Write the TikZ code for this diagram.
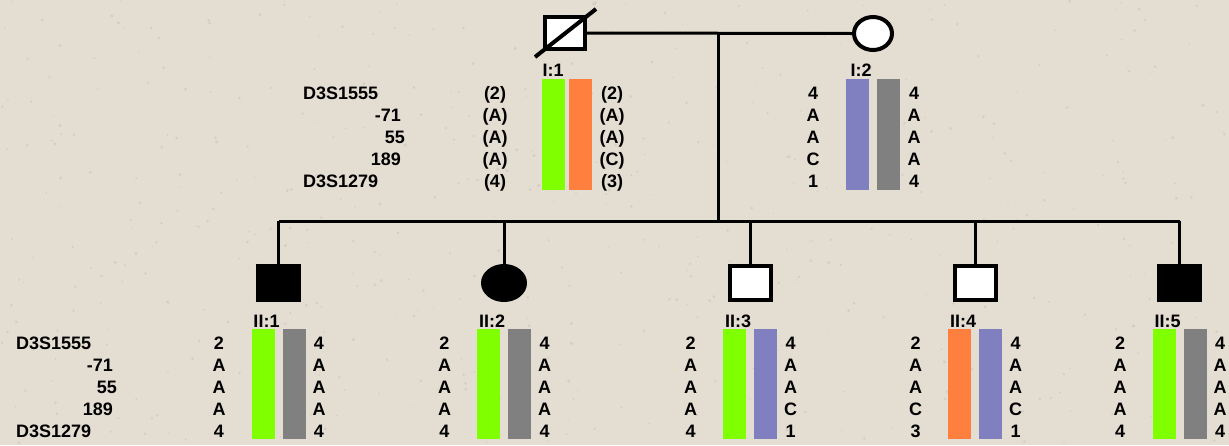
\documentclass[tikz,border=0pt]{standalone}
\usepackage{fontspec}
\usetikzlibrary{shapes.geometric}
\setmainfont{Liberation Sans}
\definecolor{paper}{RGB}{228,221,209}
\definecolor{grain}{RGB}{205,197,184}
\definecolor{hapgreen}{RGB}{128,255,0}
\definecolor{haporange}{RGB}{255,127,63}
\definecolor{hapviolet}{RGB}{128,128,192}
\definecolor{hapgrey}{RGB}{128,128,128}
\tikzset{
  txt/.style={inner sep=0pt, font=\fontsize{18}{20}\selectfont\bfseries},
  allele/.style={txt, anchor=base},
  markerL/.style={txt, anchor=base west},
  markerR/.style={txt, anchor=base east},
  idlabel/.style={txt, anchor=base},
  male/.style={draw, rectangle, line width=4pt, minimum width=41pt, minimum height=34pt, inner sep=0pt},
  female/.style={draw, ellipse, line width=4pt, minimum width=42pt, minimum height=34pt, inner sep=0pt},
  bar/.style={rectangle, inner sep=0pt, minimum width=23pt},
  link/.style={line width=3pt},
}
\begin{document}
\begin{tikzpicture}[x=1pt, y=-1pt]
  % paper background with light grain
  \fill[paper] (0,0) rectangle (1229,445);
  \useasboundingbox (0,0) rectangle (1229,445);
  \pgfmathsetseed{11}
  \foreach \k in {1,...,500} {
    \fill[grain, opacity=0.6] ({rnd*1229},{rnd*445}) circle ({0.6+rnd*1.1});
  }

  % ---------- generation I ----------
  \node[male, fill=white, minimum width=40pt, minimum height=32pt] (I1) at (565,33) {};
  \node[female, fill=white, minimum width=38pt, minimum height=33pt] (I2) at (873,33.5) {};
  \draw[line width=4pt] ([shift={(-30,24)}]I1.center) -- ([shift={(31,-24)}]I1.center);
  \draw[link] (I1.east) -- (I2.west);
  \coordinate (mate) at (718,33);
  \coordinate (sib) at (718,221);
  \draw[link] (mate) -- (sib);

  % ---------- generation II ----------
  \node[male, fill=black]   (II1) at (278.5,283) {};
  \node[female, fill=black, minimum width=42pt] (II2) at (504,283) {};
  \node[male, fill=white]   (II3) at (750,283) {};
  \node[male, fill=white]   (II4) at (975,283) {};
  \node[male, fill=black]   (II5) at (1179.5,283) {};
  \coordinate (sibL) at (278.5,221);
  \coordinate (sibR) at (1179.5,221);
  \draw[link] (sibL) -- (sibR);
  \foreach \c in {II1,II2,II3,II4,II5} {
    \draw[link] (\c.north |- sibL) -- (\c.north);
  }

  % ---------- marker names ----------
  \node[markerL] (mA1) at (303,99.5)  {D3S1555};
  \node[markerR] (mB1) at (401,121.5) {-71};
  \node[markerR] (mC1) at (405,143.5) {55};
  \node[markerR] (mD1) at (401,165.5) {189};
  \node[markerL] (mE1) at (303,187.5) {D3S1279};

  \node[markerL] (mA2) at (16,349.5)  {D3S1555};
  \node[markerR] (mB2) at (113,371.5) {-71};
  \node[markerR] (mC2) at (117,393.5) {55};
  \node[markerR] (mD2) at (113,415.5) {189};
  \node[markerL] (mE2) at (16,437.5)  {D3S1279};

  % ---------- haplotype bars ----------
  % generation I (bars from y=79 to y=190)
  \node[bar, fill=hapgreen,  minimum height=111pt] (b1a) at (553.5,134.5) {};
  \node[bar, fill=haporange, minimum height=111pt] (b1b) at (580.5,134.5) {};
  \node[bar, fill=hapviolet, minimum height=111pt] (b2a) at (857.5,134.5) {};
  \node[bar, fill=hapgrey,   minimum height=111pt] (b2b) at (888.5,134.5) {};
  % generation II (bars from y=329 to y=439)
  \foreach \cx/\ca/\cb [count=\n] in {278.5/hapgreen/hapgrey, 504/hapgreen/hapgrey,
      750/hapgreen/hapviolet, 975/haporange/hapviolet, 1179.5/hapgreen/hapgrey} {
    \node[bar, fill=\ca, minimum height=110pt] (c\n a) at ({\cx-15.5},384) {};
    \node[bar, fill=\cb, minimum height=110pt] (c\n b) at ({\cx+15.5},384) {};
  }

  % ---------- individual labels ----------
  \node[idlabel] (lI1) at (553,76.5) {I:1};
  \node[idlabel] (lI2) at (861,76.5) {I:2};
  \node[idlabel] (lII1) at (266.5,327.5) {II:1};
  \node[idlabel] (lII2) at (492,327.5) {II:2};
  \node[idlabel] (lII3) at (738,327.5) {II:3};
  \node[idlabel] (lII4) at (963,327.5) {II:4};
  \node[idlabel] (lII5) at (1167.5,327.5) {II:5};

  % ---------- alleles ----------
  \foreach \a [count=\i from 0] in {(2),(A),(A),(A),(4)}
    \node[allele] (a1l\i) at (495,{99.5+22*\i}) {\a};
  \foreach \a [count=\i from 0] in {(2),(A),(A),(C),(3)}
    \node[allele] (a1r\i) at (612,{99.5+22*\i}) {\a};
  \foreach \a [count=\i from 0] in {4,A,A,C,1}
    \node[allele] (a2l\i) at (813,{99.5+22*\i}) {\a};
  \foreach \a [count=\i from 0] in {4,A,A,A,4}
    \node[allele] (a2r\i) at (914,{99.5+22*\i}) {\a};

  \foreach \cx/\lft/\rgt [count=\n] in {
      278.5/{2,A,A,A,4}/{4,A,A,A,4},
      504/{2,A,A,A,4}/{4,A,A,A,4},
      750/{2,A,A,A,4}/{4,A,A,C,1},
      975/{2,A,A,C,3}/{4,A,A,C,1},
      1179.5/{2,A,A,A,4}/{4,A,A,A,4}} {
    \foreach \a [count=\i from 0] in \lft
      \node[allele] (k\n l\i) at ({\cx-59.5},{349.5+22*\i}) {\a};
    \foreach \a [count=\i from 0] in \rgt
      \node[allele] (k\n r\i) at ({\cx+40.5},{349.5+22*\i}) {\a};
  }
\end{tikzpicture}
\end{document}
